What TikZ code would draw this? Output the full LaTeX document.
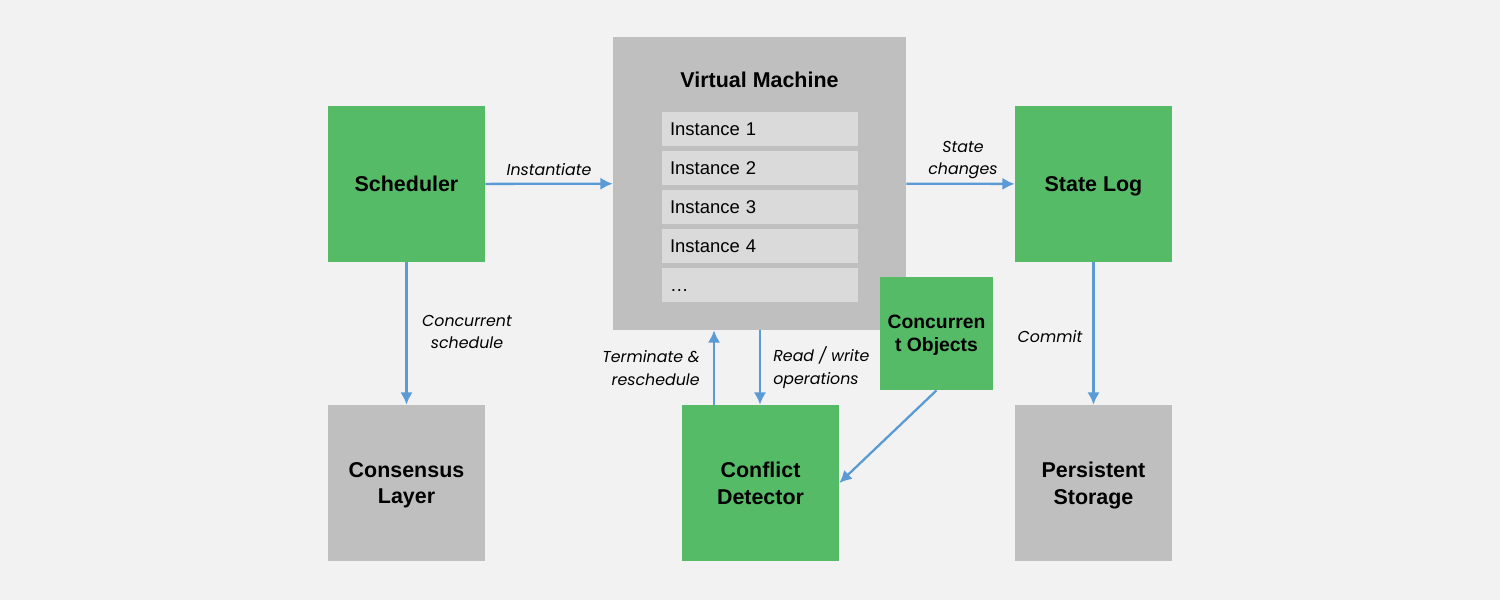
\documentclass[tikz,border=0pt]{standalone}
\usepackage{fontspec}
\setmainfont{Liberation Sans}
\newfontfamily\labelfont{Poppins}
\usetikzlibrary{arrows.meta}

\definecolor{bggray}{HTML}{F2F2F2}
\definecolor{boxgreen}{HTML}{56BB67}
\definecolor{boxgray}{HTML}{BFBFBF}
\definecolor{rowgray}{HTML}{DADADA}
\definecolor{flowblue}{HTML}{5B9BD5}

\begin{document}
\begin{tikzpicture}[x=0.02cm, y=-0.02cm,
    block/.style={minimum width=3.14cm, minimum height=3.12cm, inner sep=0pt, align=center,
        text depth=0pt, font=\bfseries\fontsize{12.2}{15.3}\selectfont},
    greenblock/.style={block, fill=boxgreen},
    grayblock/.style={block, fill=boxgray},
    instrow/.style={fill=rowgray, minimum width=3.92cm, minimum height=0.68cm, inner xsep=0.16cm,
        inner ysep=0pt, text width=3.6cm, text height=7.6pt, text depth=0pt, align=left,
        font=\fontsize{10.5}{12}\selectfont},
    flow/.style={draw=flowblue, line width=1.3pt, -{Latex[length=7pt, width=7pt]}},
    lbl/.style={font=\labelfont\itshape\fontsize{9}{13}\selectfont, inner sep=0pt}]

\fill [bggray] (0,0) rectangle (1500,600);

% top row
\node [greenblock] (sched) at (406.5,184) {Scheduler};
\node [fill=boxgray, minimum width=5.86cm, minimum height=5.86cm] (vm) at (759.5,183.5) {};
\node [font=\bfseries\fontsize{12.2}{15}\selectfont] (vmtitle) at (759.5,80) {Virtual Machine};
\foreach \i/\t in {1/Instance 1, 2/Instance 2, 3/Instance 3, 4/Instance 4, 5/…} {
    \node [instrow] (inst\i) at (760,{129+39*(\i-1)}) {\t};
}
\node [greenblock] (log) at (1093.5,184) {State Log};
\node [greenblock, minimum width=2.26cm, minimum height=2.26cm,
    font=\bfseries\fontsize{11}{13}\selectfont] (objs) at (936.5,333.5) {Concurren\\t Objects};

% bottom row
\node [grayblock] (consensus) at (406.5,483) {Consensus\\Layer};
\node [greenblock] (detector) at (760.5,483) {Conflict\\Detector};
\node [grayblock] (storage) at (1093.5,483) {Persistent\\Storage};

\coordinate (tx) at (714,0);
\coordinate (rx) at (760,0);

\draw [flow] (sched) -- (vm);
\draw [flow] (vm) -- (log);
\draw [flow] (sched) -- (consensus);
\draw [flow] (log) -- (storage);
\draw [flow] (detector.north -| tx) -- (vm.south -| tx);
\draw [flow] (vm.south -| rx) -- (detector.north -| rx);
\draw [flow] (objs.south) -- (detector.east);

\node [lbl] (linst) at (549,170) {Instantiate};
\node [lbl, align=center] (lstate) at (963,160) {State\\changes};
\node [lbl, align=center] (lsched) at (467,332) {Concurrent\\schedule};
\node [lbl] (lcommit) at (1050,337) {Commit};
\node [lbl, align=right, anchor=east] (lterm) at (700,368) {Terminate \&\\reschedule};
\node [lbl, align=left, anchor=west] (lread) at (773,368) {Read / write\\operations};

\end{tikzpicture}
\end{document}
